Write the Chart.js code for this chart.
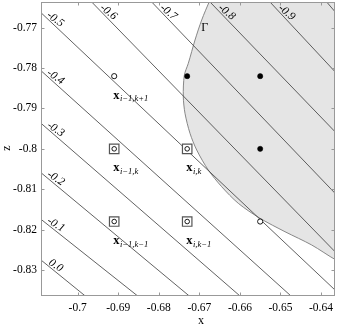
<!DOCTYPE html>
<html><head><meta charset="utf-8">
<script src="https://cdn.jsdelivr.net/npm/chart.js@4"></script>
<style>html,body{margin:0;padding:0;background:#fff;}canvas{display:block;}</style>
</head><body>
<canvas id="c" width="338" height="326"></canvas>
<script>
// ---- axis ticks ----
const xTicks = [-0.70, -0.69, -0.68, -0.67, -0.66, -0.65, -0.64];
const xTickLabels = ['-0.7', '-0.69', '-0.68', '-0.67', '-0.66', '-0.65', '-0.64'];
const zTicks = [-0.77, -0.78, -0.79, -0.80, -0.81, -0.82, -0.83];
const zTickLabels = ['-0.77', '-0.78', '-0.79', '-0.8', '-0.81', '-0.82', '-0.83'];
const xRange = [-0.70905, -0.63655];
const zRange = [-0.83644, -0.76364];

// ---- contour levels (straight segments) ----
const levelLabels = ['0.0', '-0.1', '-0.2', '-0.3', '-0.4', '-0.5', '-0.6', '-0.7', '-0.8', '-0.9', ''];
const contourX0 = [-0.70905, -0.70905, -0.70905, -0.70905, -0.70905, -0.70905, -0.69655, -0.68175, -0.66737, -0.65258, -0.6386];
const contourZ0 = [-0.82753, -0.81745, -0.80591, -0.79367, -0.78065, -0.76629, -0.76364, -0.76364, -0.76364, -0.76364, -0.76364];
const contourX1 = [-0.69813, -0.6852, -0.67248, -0.65997, -0.6474, -0.63655, -0.63655, -0.63655, -0.63655, -0.63655, -0.63655];
const contourZ1 = [-0.83644, -0.83644, -0.83644, -0.83644, -0.83644, -0.83496, -0.82547, -0.81100, -0.79576, -0.78090, -0.76604];

// ---- interface Gamma (boundary samples), region lies to the right ----
const gammaX = [-0.66520, -0.66639, -0.66755, -0.66942, -0.67107, -0.67272, -0.67371, -0.67396, -0.67354, -0.67231, -0.67065, -0.66780, -0.66449, -0.66040, -0.65504, -0.64888, -0.64230, -0.63630, -0.63285, -0.62900];
const gammaZ = [-0.75850, -0.76116, -0.76356, -0.76809, -0.77305, -0.77882, -0.78179, -0.78709, -0.79120, -0.79615, -0.80029, -0.80524, -0.80938, -0.81349, -0.81720, -0.82052, -0.82381, -0.82753, -0.82901, -0.83050];
// far-away corners used only to close the shaded shape
const gammaCloseX = [-0.62000, -0.60000, -0.60000, -0.66400];
const gammaCloseZ = [-0.83300, -0.84000, -0.74000, -0.74500];

// ---- grid nodes ----
const solidX = [-0.673, -0.655, -0.655];
const solidZ = [-0.782, -0.782, -0.800];
const hollowX = [-0.691, -0.655];
const hollowZ = [-0.782, -0.818];
const stencilX = [-0.691, -0.673, -0.691, -0.673];
const stencilZ = [-0.800, -0.800, -0.818, -0.818];
const nodeLabelX = [-0.691, -0.691, -0.673, -0.691, -0.673];
const nodeLabelZ = [-0.782, -0.800, -0.800, -0.818, -0.818];
const nodeLabelSub = ['i\u22121,k+1', 'i\u22121,k', 'i,k', 'i\u22121,k\u22121', 'i,k\u22121'];

const pts = (xs, zs) => xs.map((x, i) => ({x: x, y: zs[i]}));
const SERIF = '"Liberation Serif", "DejaVu Serif", serif';

const datasets = [];
datasets.push({label: 'solid', data: pts(solidX, solidZ), pointRadius: 2.6, pointBackgroundColor: '#000', pointBorderColor: '#000', pointBorderWidth: 0.5});
datasets.push({label: 'hollow', data: pts(hollowX, hollowZ), pointRadius: 2.6, pointBackgroundColor: '#fff', pointBorderColor: '#000', pointBorderWidth: 0.9});
datasets.push({label: 'stencilInner', data: pts(stencilX, stencilZ), pointRadius: 2.3, pointBackgroundColor: '#fff', pointBorderColor: '#000', pointBorderWidth: 0.9});
datasets.push({label: 'stencil', data: pts(stencilX, stencilZ), pointStyle: 'rect', pointRadius: 6.7, pointBackgroundColor: '#fff', pointBorderColor: '#555', pointBorderWidth: 1.2});
for (let i = 0; i < contourX0.length; i++) {
  datasets.push({label: 'c' + i, data: [{x: contourX0[i], y: contourZ0[i]}, {x: contourX1[i], y: contourZ1[i]}],
    showLine: true, pointRadius: 0, borderColor: '#3a3a3a', borderWidth: 0.8, fill: false, tension: 0});
}
// boundary stroke
datasets.push({label: 'gammaLine', data: pts(gammaX, gammaZ),
  showLine: true, pointRadius: 0, borderColor: '#7a7a7a', borderWidth: 0.9, fill: false, tension: 0.3});
// shaded region
datasets.push({label: 'gammaFill', data: pts(gammaX.concat(gammaCloseX), gammaZ.concat(gammaCloseZ)),
  showLine: true, pointRadius: 0, borderWidth: 0, borderColor: 'rgba(0,0,0,0)',
  backgroundColor: '#e5e5e5', fill: 'shape', tension: 0.3});

const decor = {
  id: 'decor',
  afterDraw(chart) {
    const ctx = chart.ctx, a = chart.chartArea;
    const sx = chart.scales.x, sy = chart.scales.y;
    ctx.save();
    // frame
    ctx.strokeStyle = '#999';
    ctx.lineWidth = 1;
    ctx.strokeRect(a.left + 0.5, a.top + 0.5, a.right - a.left - 1, a.bottom - a.top - 1);
    // inward ticks
    ctx.beginPath();
    xTicks.forEach(v => {
      const p = Math.round(sx.getPixelForValue(v)) + 0.5;
      ctx.moveTo(p, a.bottom); ctx.lineTo(p, a.bottom - 3.5);
      ctx.moveTo(p, a.top); ctx.lineTo(p, a.top + 3.5);
    });
    zTicks.forEach(v => {
      const p = Math.round(sy.getPixelForValue(v)) + 0.5;
      ctx.moveTo(a.left, p); ctx.lineTo(a.left + 3.5, p);
      ctx.moveTo(a.right, p); ctx.lineTo(a.right - 3.5, p);
    });
    ctx.stroke();

    // contour labels
    ctx.save();
    ctx.beginPath(); ctx.rect(a.left, a.top, a.right - a.left, a.bottom - a.top); ctx.clip();
    ctx.fillStyle = '#000';
    ctx.font = 'italic 11.5px ' + SERIF;
    ctx.textAlign = 'center';
    ctx.textBaseline = 'middle';
    for (let i = 0; i < levelLabels.length; i++) {
      if (!levelLabels[i]) continue;
      const x0 = sx.getPixelForValue(contourX0[i]), y0 = sy.getPixelForValue(contourZ0[i]);
      const x1 = sx.getPixelForValue(contourX1[i]), y1 = sy.getPixelForValue(contourZ1[i]);
      const L = Math.hypot(x1 - x0, y1 - y0), dx = (x1 - x0) / L, dy = (y1 - y0) / L;
      const along = contourX0[i] === xRange[0] ? 15 : 19;
      const cx = x0 + dx * along + dy * 5, cy = y0 + dy * along - dx * 5;
      ctx.save();
      ctx.translate(cx, cy);
      ctx.rotate(Math.atan2(dy, dx) - 0.12);
      ctx.fillText(levelLabels[i], 0, 0);
      ctx.restore();
    }
    ctx.restore();

    // Gamma label
    ctx.fillStyle = '#000';
    ctx.font = '12px ' + SERIF;
    ctx.textAlign = 'center';
    ctx.textBaseline = 'middle';
    ctx.fillText('\u0393', sx.getPixelForValue(gammaX[3]) + 3, sy.getPixelForValue(gammaZ[3]) + 8);

    // node labels
    for (let i = 0; i < nodeLabelX.length; i++) {
      const px = sx.getPixelForValue(nodeLabelX[i]) - 1;
      const py = sy.getPixelForValue(nodeLabelZ[i]) + 22.5;
      ctx.textAlign = 'left';
      ctx.textBaseline = 'alphabetic';
      ctx.font = 'bold 12.5px ' + SERIF;
      ctx.fillText('x', px, py);
      const w = ctx.measureText('x').width;
      ctx.font = 'italic 8.5px ' + SERIF;
      ctx.fillText(nodeLabelSub[i], px + w + 0.5, py + 2.5);
    }

    // axis titles
    ctx.font = '12px ' + SERIF;
    ctx.textAlign = 'center';
    ctx.textBaseline = 'middle';
    ctx.fillText('x', 201, 321);
    ctx.save();
    ctx.translate(7, (a.top + a.bottom) / 2 - 1);
    ctx.rotate(-Math.PI / 2);
    ctx.fillText('z', 0, 0);
    ctx.restore();
    ctx.restore();
  }
};

new Chart(document.getElementById('c'), {
  type: 'scatter',
  data: {datasets: datasets},
  options: {
    responsive: false,
    animation: false,
    devicePixelRatio: 1,
    layout: {autoPadding: false, padding: {top: 2, right: 3, left: 0, bottom: 0}},
    plugins: {legend: {display: false}, tooltip: {enabled: false}},
    elements: {line: {capBezierPoints: false}},
    scales: {
      x: {
        type: 'linear', min: xRange[0], max: xRange[1],
        grid: {display: false, drawTicks: false}, border: {display: false},
        ticks: {font: {family: SERIF, size: 11.5}, color: '#000', padding: 5, autoSkip: false, maxRotation: 0,
          callback: v => xTickLabels[xTicks.indexOf(v)]},
        afterBuildTicks: s => { s.ticks = xTicks.map(v => ({value: v})); },
        afterFit: s => { s.height = 30; s.paddingLeft = 0; s.paddingRight = 0; s.paddingTop = 0; s.paddingBottom = 0; }
      },
      y: {
        type: 'linear', min: zRange[0], max: zRange[1],
        grid: {display: false, drawTicks: false}, border: {display: false},
        ticks: {font: {family: SERIF, size: 11.5}, color: '#000', padding: 4, autoSkip: false,
          callback: v => zTickLabels[zTicks.indexOf(v)]},
        afterBuildTicks: s => { s.ticks = zTicks.map(v => ({value: v})); },
        afterFit: s => { s.width = 41; s.paddingLeft = 0; s.paddingRight = 0; s.paddingTop = 0; s.paddingBottom = 0; }
      }
    }
  },
  plugins: [decor]
});
</script>
</body></html>
